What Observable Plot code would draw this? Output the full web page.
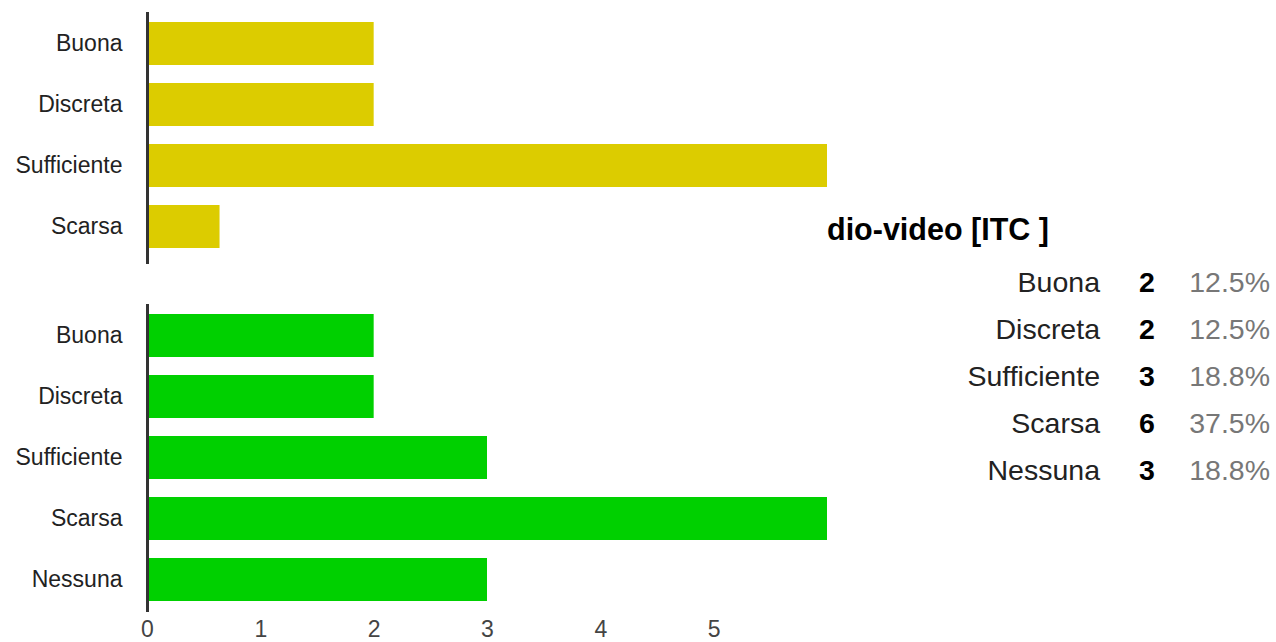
<!DOCTYPE html>
<html>
<head>
<meta charset="utf-8">
<script src="https://cdn.jsdelivr.net/npm/d3@7"></script>
<script src="https://cdn.jsdelivr.net/npm/@observablehq/plot@0.6"></script>
<style>
  html, body { margin: 0; padding: 0; background: #fff; }
  #root { position: relative; width: 1276px; height: 642px; overflow: hidden; font-family: "Liberation Sans", Arial, sans-serif; }
  #top, #bottom { position: absolute; left: 0; }
  #top { top: 0; }
  #bottom { top: 290px; }
  #title { position: absolute; left: 827px; top: 214px; font-size: 30.5px; font-weight: bold; color: #000; line-height: 30.5px; white-space: nowrap; }
  .cell { position: absolute; font-size: 28.5px; line-height: 28.5px; white-space: nowrap; }
  .lab { color: #222; text-align: right; width: 300px; }
  .cnt { color: #000; font-weight: bold; text-align: center; width: 40px; }
  .pct { color: #777; text-align: right; width: 120px; }
</style>
</head>
<body>
<div id="root">
  <div id="top"></div>
  <div id="bottom"></div>
  <div id="title"></div>
  <div id="table"></div>
</div>
<script>
const categoriesTop = ["Buona", "Discreta", "Sufficiente", "Scarsa"];
const valuesTop = [2, 2, 6, 0.64];
const categoriesBottom = ["Buona", "Discreta", "Sufficiente", "Scarsa", "Nessuna"];
const valuesBottom = [2, 2, 3, 6, 3];
const countsTable = [2, 2, 3, 6, 3];
const percentTable = ["12.5%", "12.5%", "18.8%", "37.5%", "18.8%"];
const xTicks = [0, 1, 2, 3, 4, 5];
const titleText = "dio-video [ITC ]";
const colorTop = "#dccc00";
const colorBottom = "#00d000";

const topData = categoriesTop.map((c, i) => ({cat: c, value: valuesTop[i]}));
const bottomData = categoriesBottom.map((c, i) => ({cat: c, value: valuesBottom[i]}));

const common = {
  width: 840,
  marginLeft: 147,
  marginRight: 13,
  style: {fontFamily: "'Liberation Sans', Arial, sans-serif", fontSize: "23px", color: "#222", background: "transparent", overflow: "visible"}
};

const topPlot = Plot.plot({
  ...common,
  height: 270,
  marginTop: 12,
  marginBottom: 13,
  x: {domain: [0, 6], axis: null},
  y: {domain: categoriesTop, paddingInner: 0.3, paddingOuter: 0.15, label: null},
  marks: [
    Plot.barX(topData, {x: "value", y: "cat", fill: colorTop}),
    Plot.axisY({tickSize: 0, tickPadding: 25, fontSize: 23, label: null}),
    Plot.ruleX([0], {stroke: "#333", strokeWidth: 3, insetTop: 0, insetBottom: -7})
  ]
});
document.getElementById("top").appendChild(topPlot);

const bottomPlot = Plot.plot({
  ...common,
  height: 352,
  marginTop: 15,
  marginBottom: 32,
  x: {domain: [0, 6], label: null},
  y: {domain: categoriesBottom, paddingInner: 0.3, paddingOuter: 0.15, label: null},
  marks: [
    Plot.barX(bottomData, {x: "value", y: "cat", fill: colorBottom}),
    Plot.axisY({tickSize: 0, tickPadding: 25, fontSize: 23, label: null}),
    Plot.axisX(xTicks, {tickSize: 0, tickPadding: 10, fontSize: 23, fill: "#444", tickFormat: d => String(d), label: null}),
    Plot.ruleX([0], {stroke: "#333", strokeWidth: 3, insetTop: -1, insetBottom: -2})
  ]
});
document.getElementById("bottom").appendChild(bottomPlot);

document.getElementById("title").textContent = titleText;

const table = document.getElementById("table");
const baseline0 = 292, rowStep = 47, asc = 0.8465 * 28.5;
categoriesBottom.forEach((c, i) => {
  const top = baseline0 + i * rowStep - asc;
  const lab = document.createElement("div");
  lab.className = "cell lab"; lab.style.left = (1100 - 300) + "px"; lab.style.top = top + "px"; lab.textContent = c;
  const cnt = document.createElement("div");
  cnt.className = "cell cnt"; cnt.style.left = (1147 - 20) + "px"; cnt.style.top = top + "px"; cnt.textContent = countsTable[i];
  const pct = document.createElement("div");
  pct.className = "cell pct"; pct.style.left = (1270 - 120) + "px"; pct.style.top = top + "px"; pct.textContent = percentTable[i];
  table.append(lab, cnt, pct);
});
</script>
</body>
</html>
